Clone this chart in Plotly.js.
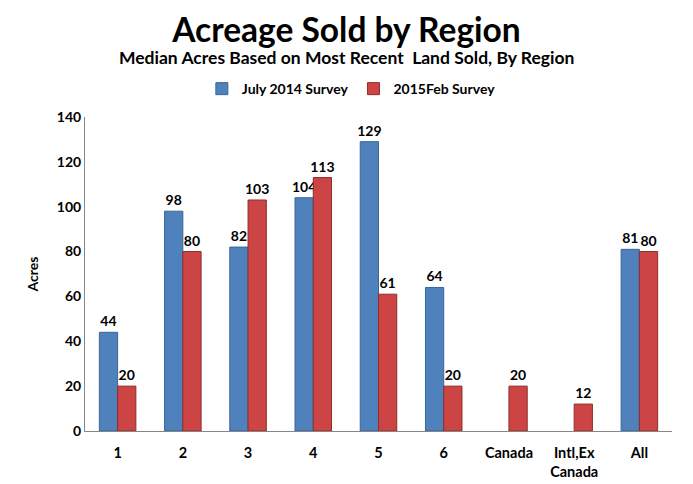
<!DOCTYPE html>
<html>
<head>
<meta charset="utf-8">
<script src="https://cdn.plot.ly/plotly-3.0.1.min.js"></script>
<style>html,body{margin:0;padding:0;background:#fff;}#chart{width:693px;height:484px;}</style>
</head>
<body>
<div id="chart"></div>
<script>
var categories = ["1", "2", "3", "4", "5", "6", "Canada", "Intl,Ex<br>Canada", "All"];
var july2014 = [44, 98, 82, 104, 129, 64, null, null, 81];
var feb2015 = [20, 80, 103, 113, 61, 20, 20, 12, 80];
var seriesNames = ["July 2014 Survey", "2015Feb Survey"];

var FONT = "Lato, 'Open Sans', sans-serif";

var traces = [
  {
    type: "bar", name: seriesNames[0], x: categories, y: july2014,
    marker: {color: "#4F81BD", line: {color: "#3A6595", width: 1}},
    texttemplate: "%{y}", textposition: "outside", cliponaxis: false, constraintext: "none",
    textfont: {family: FONT, size: 14, color: "#000", weight: "bold"}
  },
  {
    type: "bar", name: seriesNames[1], x: categories, y: feb2015,
    marker: {color: "#CC4444", line: {color: "#8E2E2C", width: 1}},
    texttemplate: "%{y}", textposition: "outside", cliponaxis: false, constraintext: "none",
    textfont: {family: FONT, size: 14, color: "#000", weight: "bold"}
  }
];

var layout = {
  width: 693, height: 484,
  margin: {l: 85, r: 21, t: 117, b: 53},
  paper_bgcolor: "#fff", plot_bgcolor: "#fff",
  font: {family: FONT, color: "#000"},
  barmode: "group", bargap: 0.44, bargroupgap: 0,
  showlegend: true,
  title: {
    text: "<b>Acreage Sold by Region</b>",
    font: {family: FONT, size: 33.5, color: "#000"},
    x: 0.5, xref: "container", xanchor: "center",
    y: 0.938, yref: "container", yanchor: "middle"
  },
  annotations: [{
    text: "<b>Median Acres Based on Most Recent  Land Sold, By Region</b>",
    xref: "paper", yref: "paper", x: 0.5 - (378 - 346) / 587, xanchor: "center",
    y: (431 - 57) / 314, yanchor: "middle", showarrow: false,
    font: {family: FONT, size: 17.5, color: "#000"}
  }],
  legend: {
    orientation: "h", xref: "container", yref: "container",
    x: 0.507, xanchor: "center", y: 0.816, yanchor: "middle",
    font: {family: FONT, size: 14, color: "#000", weight: "bold"},
    itemwidth: 30, tracegroupgap: 0
  },
  xaxis: {
    type: "category", showline: true, linecolor: "#868686", linewidth: 1,
    showgrid: false, ticks: "", zeroline: false, ticklabelstandoff: 9,
    tickfont: {family: FONT, size: 14.5, color: "#000", weight: "bold"}
  },
  yaxis: {
    range: [0, 140], dtick: 20, showline: true, linecolor: "#868686", linewidth: 1,
    showgrid: false, zeroline: false, ticks: "",
    tickfont: {family: FONT, size: 14, color: "#000", weight: "bold"},
    title: {text: "<b>Acres</b>", font: {family: FONT, size: 14, color: "#000"}, standoff: 14}
  }
};

Plotly.newPlot("chart", traces, layout, {displayModeBar: false, staticPlot: true});
</script>
</body>
</html>
